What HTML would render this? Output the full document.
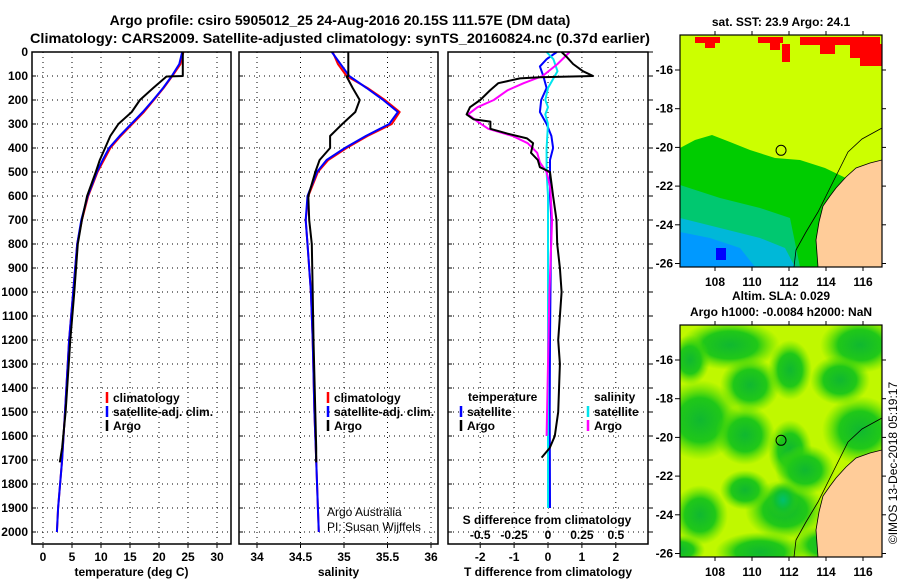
<!DOCTYPE html>
<html><head><meta charset="utf-8"><style>
html,body{margin:0;padding:0;background:#fff}
svg{display:block;font-family:"Liberation Sans",Arial,sans-serif}
.t{font-weight:bold;font-size:12px}
.ttl{font-weight:bold;font-size:14px}
</style></head><body>
<svg id="chart" width="900" height="580" viewBox="0 0 900 580">
<defs>
<clipPath id="clip1"><rect x="680" y="35" width="202" height="232"/></clipPath>
<clipPath id="clip2"><rect x="680" y="325" width="202" height="232"/></clipPath>
<radialGradient id="blob"><stop offset="0" stop-color="#10b830"/><stop offset="0.55" stop-color="#20c818"/><stop offset="1" stop-color="#50dd00" stop-opacity="0"/></radialGradient>
<radialGradient id="blob2"><stop offset="0" stop-color="#00c070"/><stop offset="0.5" stop-color="#10c030"/><stop offset="1" stop-color="#30cc10" stop-opacity="0"/></radialGradient>
</defs>
<text class="ttl" x="340" y="25" text-anchor="middle">Argo profile: csiro 5905012_25 24-Aug-2016 20.15S 111.57E (DM data)</text>
<text class="ttl" x="340" y="43" text-anchor="middle" textLength="620" lengthAdjust="spacingAndGlyphs">Climatology: CARS2009. Satellite-adjusted climatology: synTS_20160824.nc (0.37d earlier)</text>
<g id="p1"></g>
<g id="p2"></g>
<g id="p3"></g>
<g id="m1"></g>
<g id="m2"></g>
<text x="897" y="463" style="font-size:12px" transform="rotate(-90 897 463)" text-anchor="middle">©IMOS 13-Dec-2018 05:19:17</text>
</svg>
<script>
// ---------- data ----------
const climDepth=[0,50,100,150,200,250,300,350,400,450,500,600,700,800,1000,1200,1500,1700,1900,2000];
const climTemp=[24.2,23.7,22.3,20.8,19.1,17.4,15.4,13.4,11.6,10.5,9.4,7.8,6.7,5.9,5.2,4.5,3.8,3.3,2.6,2.4];
const satTemp=[24.0,23.5,22.2,20.7,19.0,17.2,15.2,13.2,11.4,10.3,9.3,7.7,6.6,5.9,5.2,4.5,3.8,3.3,2.6,2.4];
const argoDepth=[0,100,102,150,200,250,300,350,400,450,500,600,700,800,1000,1200,1500,1650,1710];
const argoTemp=[24.1,24.1,21.3,19.0,16.7,15.3,13.0,11.6,10.7,9.8,9.1,7.6,6.7,6.0,5.4,4.7,3.9,3.3,2.9];
const climSal=[34.87,34.93,35.03,35.27,35.47,35.64,35.55,35.27,35.03,34.82,34.70,34.59,34.56,34.58,34.62,34.64,34.66,34.68,34.70,34.71];
const satSal=[34.86,34.96,35.06,35.26,35.45,35.62,35.52,35.25,35.01,34.80,34.69,34.58,34.56,34.58,34.62,34.64,34.66,34.68,34.70,34.71];
const argoSal=[35.05,35.05,35.03,35.10,35.18,35.13,34.98,34.84,34.84,34.72,34.67,34.59,34.60,34.63,34.64,34.65,34.67,34.68,34.68];
const diffDepth=[0,20,50,80,100,105,110,130,160,200,230,260,280,290,320,340,360,380,420,450,480,500,600,700,800,900,1000,1100,1200,1300,1500,1600,1650,1690];
const argoTDiff=[0.4,0.55,0.74,1.03,1.33,-0.24,-0.83,-1.47,-1.71,-2.0,-2.3,-2.4,-2.2,-1.7,-1.7,-1.2,-0.62,-0.44,-0.5,-0.3,-0.24,0.06,0.15,0.25,0.27,0.35,0.4,0.35,0.3,0.35,0.3,0.2,0.05,-0.19];
const satDiffDepth=[0,30,60,100,150,200,250,300,350,400,450,500,600,700,900,1200,1500,1900];
const satTDiff=[0.26,-0.04,-0.24,-0.14,-0.04,-0.2,-0.24,-0.04,0.1,0.15,0.06,0.06,0.06,0.1,0.08,0.06,0.05,0.06];
const sDiffDepth=[0,50,100,130,160,200,230,260,290,320,350,380,420,460,500,560,600,700,1000,1300,1600];
const argoSDiff=[0.16,0.07,-0.04,-0.18,-0.3,-0.4,-0.52,-0.59,-0.52,-0.44,-0.26,-0.15,-0.08,-0.06,-0.01,0.015,0.02,0.03,0.01,0.0,-0.01];
const satSDiffDepth=[0,30,80,100,150,200,230,260,300,400,500,600,700,1000,1500,1900];
const satSDiff=[-0.01,0.04,0.07,0.05,0.0,-0.02,0.0,-0.02,0.0,-0.01,-0.01,0.0,0.0,0.0,0.0,0.0];
const depthTicks=[0,100,200,300,400,500,600,700,800,900,1000,1100,1200,1300,1400,1500,1600,1700,1800,1900,2000];
const tempTicks=[0,5,10,15,20,25,30];
const salTicks=[34,34.5,35,35.5,36];
const tdTicks=[-2,-1,0,1,2];
const sdTicks=[-0.5,-0.25,0,0.25,0.5];
const sdTickLabels=["-0.5","-0.25","0","0.25","0.5"];
const latTicks=[-16,-18,-20,-22,-24,-26];
const lonTicks=[108,110,112,114,116];
const argoLon=111.57, argoLat=-20.15;

const NS="http://www.w3.org/2000/svg";
function mk(parent,tag,attrs,txt){const e=document.createElementNS(NS,tag);for(const k in attrs)e.setAttribute(k,attrs[k]);if(txt!==undefined)e.textContent=txt;parent.appendChild(e);return e;}
const yD=d=>52+d*0.24;
const TOP=52,BOT=544;

function panel(g,x0,x1,xs,ticks,labels,title,leftLabels){
  mk(g,'rect',{x:x0,y:TOP,width:x1-x0,height:BOT-TOP,fill:'#fff',stroke:'none'});
  depthTicks.forEach(d=>{const l=mk(g,'line',{x1:x0,x2:x1,y1:yD(d),y2:yD(d),stroke:'#000','stroke-width':1,'stroke-dasharray':'1 4'});
    
    mk(g,'line',{x1:x0,x2:x0+4,y1:yD(d),y2:yD(d),stroke:'#000'});
    if(leftLabels){const t=mk(g,'text',{x:x0-4,y:yD(d)+4,'text-anchor':'end',class:'t'},String(d));}
  });
  ticks.forEach((v,i)=>{const x=xs(v);
    const l=mk(g,'line',{x1:x,x2:x,y1:TOP,y2:BOT,stroke:'#000','stroke-dasharray':'1 4'});
    
    mk(g,'line',{x1:x,x2:x,y1:BOT,y2:BOT+4,stroke:'#000'});
    const t=mk(g,'text',{x:x,y:561,'text-anchor':'middle',class:'t'},labels?labels[i]:String(v));
    
  });
  const tt=mk(g,'text',{x:(x0+x1)/2,y:576,'text-anchor':'middle',class:'t'},title);
  
}
function frame(g,x0,x1){const r=mk(g,'rect',{x:x0,y:TOP,width:x1-x0,height:BOT-TOP,fill:'none',stroke:'#000','stroke-width':1.5});}
function line(g,depths,vals,xs,color,name){
  const pts=depths.map((d,i)=>xs(vals[i]).toFixed(1)+','+yD(d).toFixed(1)).join(' ');
  const p=mk(g,'polyline',{points:pts,fill:'none',stroke:color,'stroke-width':2,'stroke-linejoin':'round'});
  
}
function legend(g,x,y,color,label){
  mk(g,'line',{x1:x,x2:x,y1:y-10,y2:y+1,stroke:color,'stroke-width':2.5});
  const t=mk(g,'text',{x:x+6,y:y,class:'t'},label);
}

// Panel 1
const p1=document.getElementById('p1');
const xT=v=>43+v*5.8;
panel(p1,32,231,xT,tempTicks,null,'temperature (deg C)',true);
line(p1,climDepth,climTemp,xT,'#ff0000','climatology-temp-line');
line(p1,climDepth,satTemp,xT,'#0000ff','satellite-clim-temp-line');
line(p1,argoDepth,argoTemp,xT,'#000','argo-temp-line');
legend(p1,107,402,'#f00','climatology');legend(p1,107,416,'#00f','satellite-adj. clim.');legend(p1,107,430,'#000','Argo');
frame(p1,32,231);

// Panel 2
const p2=document.getElementById('p2');
const xS=v=>257+(v-34)*87;
panel(p2,239,438,xS,salTicks,null,'salinity',false);
line(p2,climDepth,climSal,xS,'#ff0000','climatology-sal-line');
line(p2,climDepth,satSal,xS,'#0000ff','satellite-clim-sal-line');
line(p2,argoDepth,argoSal,xS,'#000','argo-sal-line');
legend(p2,328,402,'#f00','climatology');legend(p2,328,416,'#00f','satellite-adj. clim.');legend(p2,328,430,'#000','Argo');
let a=mk(p2,'text',{x:327,y:516,'font-size':12},'Argo Australia');
a=mk(p2,'text',{x:327,y:531,'font-size':12},'PI: Susan Wijffels');
frame(p2,239,438);

// Panel 3
const p3=document.getElementById('p3');
const xTD=v=>548+v*33.9, xSD=v=>548+v*135.6;
panel(p3,448,648,xTD,tdTicks,null,'T difference from climatology',false);
depthTicks.forEach(d=>mk(p3,'line',{x1:648,x2:653,y1:yD(d),y2:yD(d),stroke:'#000'}));
line(p3,satDiffDepth,satTDiff,xTD,'#0000ff','satellite-t-diff-line');
line(p3,satSDiffDepth,satSDiff,xSD,'#00e5ee','satellite-s-diff-line');
line(p3,sDiffDepth,argoSDiff,xSD,'#ff00ff','argo-s-diff-line');
line(p3,diffDepth,argoTDiff,xTD,'#000','argo-t-diff-line');
a=mk(p3,'text',{x:468,y:401,class:'t'},'temperature');
a=mk(p3,'text',{x:594,y:401,class:'t'},'salinity');
legend(p3,461,416,'#00f','satellite');legend(p3,461,430,'#000','Argo');
legend(p3,588,416,'#00e5ee','satellite');legend(p3,588,430,'#f0f','Argo');
a=mk(p3,'text',{x:547,y:524,'text-anchor':'middle',class:'t'},'S difference from climatology');
sdTicks.forEach((v,i)=>{const t=mk(p3,'text',{x:xSD(v),y:539,'text-anchor':'middle',class:'t'},sdTickLabels[i]);});
frame(p3,448,648);

// Maps
const MX0=680,MX1=882;
const lonX=lo=>715+(lo-108)*18.5;
function mapAxes(g,top){
  const latY=la=>top+35+(-16-la)*19.35;
  latTicks.forEach(la=>{const y=latY(la);mk(g,'line',{x1:MX0-5,x2:MX0,y1:y,y2:y,stroke:'#000'});mk(g,'line',{x1:MX1,x2:MX1+4,y1:y,y2:y,stroke:'#000'});
    const t=mk(g,'text',{x:MX0-7,y:y+4,'text-anchor':'end',class:'t'},String(la));});
  lonTicks.forEach(lo=>{const x=lonX(lo);mk(g,'line',{x1:x,x2:x,y1:top,y2:top-4,stroke:'#000'});mk(g,'line',{x1:x,x2:x,y1:top+232,y2:top+236,stroke:'#000'});
    const t=mk(g,'text',{x:x,y:top+251,'text-anchor':'middle',class:'t'},String(lo));});
}
function coast(g,top){
  const o=top-35;
  mk(g,'polyline',{points:`882,${128+o} 862,${139+o} 848,${152+o} 838,${172+o} 828,${192+o} 818,${212+o} 806,${232+o} 796,${250+o} 794,${267+o}`,fill:'none',stroke:'#000','stroke-width':0.8});
  const land=mk(g,'polygon',{points:`882,${160+o} 870,${163+o} 856,${168+o} 846,${177+o} 836,${188+o} 830,${196+o} 823,${206+o} 819,${222+o} 816,${240+o} 818,${267+o} 882,${267+o}`,fill:'#ffcc99',stroke:'#000','stroke-width':0.8});
  
}
// SST map
const m1=document.getElementById('m1');
let tt=mk(m1,'text',{x:781,y:26,'text-anchor':'middle',class:'t'},'sat. SST: 23.9 Argo: 24.1');
const c1=mk(m1,'g',{'clip-path':'url(#clip1)'});
mk(c1,'rect',{x:MX0,y:35,width:202,height:232,fill:'#ccff00'});
mk(c1,'polygon',{points:'680,148 695,140 712,135 730,142 750,150 775,158 800,160 825,168 850,180 840,267 680,267',fill:'#00cc00'});
mk(c1,'polygon',{points:'680,185 720,198 760,208 790,218 800,267 680,267',fill:'#00c870'});
mk(c1,'polygon',{points:'680,218 720,228 760,238 785,248 795,267 680,267',fill:'#00b8d8'});
mk(c1,'polygon',{points:'680,232 710,238 740,248 755,267 680,267',fill:'#0099ff'});
mk(c1,'rect',{x:716,y:248,width:10,height:12,fill:'#0000ff'});
[[695,37,25,6],[705,42,10,6],[758,37,25,6],[770,42,10,8],[800,37,80,8],[820,44,15,10],[850,44,32,14],[860,58,22,8],[782,44,8,18]].forEach(r=>mk(c1,'rect',{x:r[0],y:r[1],width:r[2],height:r[3],fill:'#ff0000'}));
coast(c1,35);
mapAxes(m1,35);
tt=mk(m1,'circle',{cx:lonX(argoLon),cy:35+35+(-16-argoLat)*19.35,r:5,fill:'none',stroke:'#000'});
mk(m1,'rect',{x:MX0,y:35,width:202,height:232,fill:'none',stroke:'#000','stroke-width':1.2});
// SLA map
const m2=document.getElementById('m2');
tt=mk(m2,'text',{x:781,y:300,'text-anchor':'middle',class:'t'},'Altim. SLA: 0.029');
tt=mk(m2,'text',{x:781,y:316,'text-anchor':'middle',class:'t'},'Argo h1000: -0.0084 h2000: NaN');
const c2=mk(m2,'g',{'clip-path':'url(#clip2)'});
mk(c2,'rect',{x:MX0,y:325,width:202,height:232,fill:'#c0f800'});
[[730,345,50,25],[750,385,30,28],[790,370,22,30],[860,345,40,28],[860,430,38,34],[700,420,40,40],[745,435,30,30],[790,450,22,30],[785,510,40,30],[700,515,28,30],[760,552,45,20],[805,470,30,25],[690,360,20,25],[680,550,25,15],[840,380,30,25],[745,490,25,20],[830,545,40,20]].forEach(b=>mk(c2,'ellipse',{cx:b[0],cy:b[1],rx:b[2],ry:b[3],fill:'url(#blob)'}));
mk(c2,'ellipse',{cx:783,cy:500,rx:16,ry:18,fill:'url(#blob2)'});
coast(c2,325);
mapAxes(m2,325);
tt=mk(m2,'circle',{cx:lonX(argoLon),cy:325+35+(-16-argoLat)*19.35,r:5,fill:'none',stroke:'#000'});
mk(m2,'rect',{x:MX0,y:325,width:202,height:232,fill:'none',stroke:'#000','stroke-width':1.2});
</script>
</body></html>
